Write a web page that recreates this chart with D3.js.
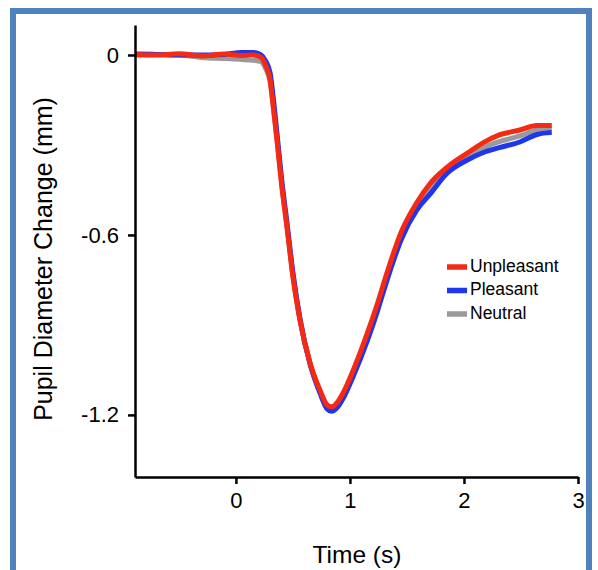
<!DOCTYPE html>
<html>
<head>
<meta charset="utf-8">
<script src="https://cdn.jsdelivr.net/npm/d3@7"></script>
<style>
  body { margin: 0; background: #fff; }
  svg { display: block; font-family: "Liberation Sans", Arial, sans-serif; }
</style>
</head>
<body>
<div id="chart"></div>
<script>
// time axis (s), shared by the three conditions
var time = [-0.88, -0.7, -0.5, -0.3, -0.1, 0.05, 0.15, 0.22, 0.26, 0.3, 0.33, 0.36, 0.4, 0.45, 0.5, 0.56,
  0.65, 0.74, 0.8, 0.84, 0.89, 0.94, 1.03, 1.15, 1.24, 1.33, 1.45, 1.59, 1.7, 1.85, 2.03, 2.17, 2.3,
  2.49, 2.64, 2.77];

// pupil diameter change (mm)
var neutral = [0.0, 0.002, 0.0, -0.008, -0.012, -0.015, -0.018, -0.022, -0.045, -0.09, -0.18, -0.28,
  -0.425, -0.58, -0.735, -0.88, -1.03, -1.125, -1.172, -1.18, -1.165, -1.135, -1.058, -0.94, -0.84,
  -0.73, -0.6, -0.5, -0.445, -0.385, -0.34, -0.31, -0.29, -0.27, -0.25, -0.245];
var pleasant = [0.003, 0.002, 0.0, 0.0, 0.002, 0.008, 0.008, 0.0, -0.02, -0.06, -0.15, -0.26, -0.41,
  -0.565, -0.725, -0.875, -1.03, -1.13, -1.18, -1.188, -1.175, -1.145, -1.07, -0.955, -0.855, -0.745,
  -0.615, -0.515, -0.465, -0.395, -0.35, -0.325, -0.31, -0.29, -0.265, -0.258];
var unpleasant = [0.002, 0.0, 0.004, -0.003, 0.003, -0.002, 0.0, -0.008, -0.035, -0.083, -0.18, -0.283,
  -0.43, -0.58, -0.74, -0.88, -1.027, -1.12, -1.167, -1.173, -1.158, -1.127, -1.05, -0.93, -0.83,
  -0.72, -0.59, -0.49, -0.43, -0.375, -0.327, -0.292, -0.268, -0.25, -0.235, -0.235];

var xTicks = [0, 1, 2, 3];
var yTicks = [0, -0.6, -1.2];
var seriesNames = ["Unpleasant", "Pleasant", "Neutral"];
var seriesColors = ["#f52a14", "#1f35ee", "#9a9a9a"];

var width = 598, height = 570;

var svg = d3.select("#chart").append("svg")
  .attr("width", width)
  .attr("height", height);

// blue frame
svg.append("rect")
  .attr("x", 13).attr("y", 11)
  .attr("width", 576).attr("height", 620)
  .attr("fill", "none")
  .attr("stroke", "#4f81bd")
  .attr("stroke-width", 6);

var x = d3.scaleLinear().domain([-0.885, 3]).range([135, 578]);
var y = d3.scaleLinear().domain([0.1, -1.407]).range([25, 477]);

var line = d3.line()
  .x(function(d) { return x(d[0]); })
  .y(function(d) { return y(d[1]); })
  .curve(d3.curveMonotoneX);

// draw back to front: neutral, pleasant, unpleasant
var drawOrder = [
  { vals: neutral, color: seriesColors[2] },
  { vals: pleasant, color: seriesColors[1] },
  { vals: unpleasant, color: seriesColors[0] }
];
drawOrder.forEach(function(s) {
  svg.append("path")
    .datum(d3.zip(time, s.vals))
    .attr("d", line)
    .attr("fill", "none")
    .attr("stroke", s.color)
    .attr("stroke-width", 5)
    .attr("stroke-linejoin", "round")
    .attr("stroke-linecap", "butt");
});

// axes
var xAxis = svg.append("g")
  .attr("transform", "translate(0," + y.range()[1] + ")")
  .call(d3.axisBottom(x).tickValues(xTicks).tickSize(7).tickSizeOuter(0).tickPadding(8)
    .tickFormat(function(d) { return String(d); }));

var yAxis = svg.append("g")
  .attr("transform", "translate(" + x.range()[0] + ",0)")
  .call(d3.axisLeft(y).tickValues(yTicks).tickSize(7).tickSizeOuter(0).tickPadding(9)
    .tickFormat(function(d) { return String(d); }));

[xAxis, yAxis].forEach(function(g) {
  g.select(".domain").attr("stroke", "#000").attr("stroke-width", 2.5);
  g.selectAll(".tick line").attr("stroke", "#000").attr("stroke-width", 2.5);
  g.selectAll(".tick text")
    .attr("fill", "#000")
    .style("font-size", "22px")
    .style("font-family", "\"Liberation Sans\", Arial, sans-serif");
});

// axis titles
svg.append("text")
  .attr("x", 357)
  .attr("y", 557)
  .attr("text-anchor", "middle")
  .attr("dominant-baseline", "middle")
  .style("font-size", "24.5px")
  .text("Time (s)");

svg.append("text")
  .attr("transform", "translate(45,259) rotate(-90)")
  .attr("text-anchor", "middle")
  .attr("dominant-baseline", "middle")
  .style("font-size", "25px")
  .text("Pupil Diameter Change (mm)");

// legend
var legend = svg.append("g").attr("transform", "translate(447,267)");
seriesNames.forEach(function(name, i) {
  var row = legend.append("g").attr("transform", "translate(0," + (i * 23.5) + ")");
  row.append("line")
    .attr("x1", 0).attr("x2", 20)
    .attr("stroke", seriesColors[i])
    .attr("stroke-width", 5.5);
  row.append("text")
    .attr("x", 23)
    .attr("dominant-baseline", "middle")
    .style("font-size", "17.5px")
    .text(name);
});
</script>
</body>
</html>
